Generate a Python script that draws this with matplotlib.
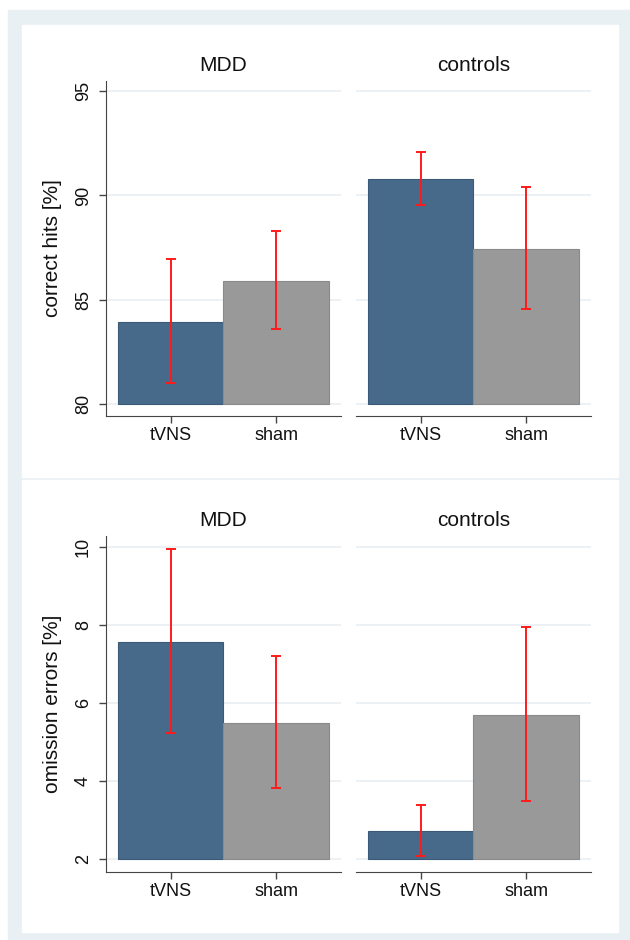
import matplotlib
matplotlib.use("Agg")
import matplotlib.pyplot as plt
from matplotlib.patches import Rectangle

plt.rcParams['font.family'] = ['Liberation Sans', 'DejaVu Sans']

# data
conditions = ["tVNS", "sham"]
groups = ["MDD", "controls"]

hits_mdd = [83.95, 85.9]
hits_mdd_lo = [81.0, 83.6]
hits_mdd_hi = [86.95, 88.3]
hits_ctrl = [90.8, 87.45]
hits_ctrl_lo = [89.55, 84.55]
hits_ctrl_hi = [92.1, 90.4]

omis_mdd = [7.58, 5.5]
omis_mdd_lo = [5.25, 3.83]
omis_mdd_hi = [9.95, 7.2]
omis_ctrl = [2.72, 5.71]
omis_ctrl_lo = [2.07, 3.5]
omis_ctrl_hi = [3.38, 7.95]

bar_colors = ["#476a8b", "#999999"]
edge_colors = ["#3a5a78", "#8a8a8a"]
bg = "#e8f0f3"
grid_col = "#e6eef1"

W, H = 630, 940
fig = plt.figure(figsize=(6.3, 9.4), dpi=100, facecolor="white")

def px(x0, y0, x1, y1):
    # pixel box (top-left origin) -> figure fraction rect
    return [x0 / W, 1 - y1 / H, (x1 - x0) / W, (y1 - y0) / H]

# outer light frame and white panels
r = px(8, 10, 630, 940)
fig.patches.append(Rectangle(r[:2], r[2], r[3], transform=fig.transFigure,
                             color=bg, zorder=-2))
for (y0, y1) in [(25, 477), (480, 932)]:
    r = px(22, y0, 618, y1)
    fig.patches.append(Rectangle(r[:2], r[2], r[3], transform=fig.transFigure,
                                 color="white", zorder=-1))

panels = [
    # (row box, ylim, base, yticks, ylabel, [(means, lo, hi), ...])
    ((81, 416), (79.44, 95.48), 80, [80, 85, 90, 95], "correct hits [%]",
     [(hits_mdd, hits_mdd_lo, hits_mdd_hi), (hits_ctrl, hits_ctrl_lo, hits_ctrl_hi)]),
    ((536, 871.7), (1.68, 10.29), 2, [2, 4, 6, 8, 10], "omission errors [%]",
     [(omis_mdd, omis_mdd_lo, omis_mdd_hi), (omis_ctrl, omis_ctrl_lo, omis_ctrl_hi)]),
]
cols = [(106, 341), (356, 591)]

xpos = [1, 2]
for (top, bot), ylim, base, yticks, ylabel, series in panels:
    for c, (g, (means, lo, hi)) in enumerate(zip(groups, series)):
        ax = fig.add_axes(px(cols[c][0], top, cols[c][1], bot))
        ax.set_facecolor("none")
        for yt in yticks:
            ax.axhline(yt, color=grid_col, lw=1.1, zorder=0)
        heights = [m - base for m in means]
        ax.bar(xpos, heights, bottom=base, width=1.0, color=bar_colors,
               edgecolor=edge_colors, linewidth=0.8, zorder=2)
        yerr = [[m - l for m, l in zip(means, lo)], [h - m for m, h in zip(means, hi)]]
        ax.errorbar(xpos, means, yerr=yerr, fmt="none", ecolor="#ff1a1a",
                    elinewidth=1.4, capsize=3.5, capthick=1.4, zorder=3)
        ax.set_xlim(0.386, 2.617)
        ax.set_ylim(*ylim)
        ax.set_xticks(xpos)
        ax.set_xticklabels(conditions)
        ax.set_yticks(yticks)
        ax.set_title(g, fontsize=15, pad=7, color="#111111")
        for s in ["top", "right"]:
            ax.spines[s].set_visible(False)
        ax.spines["bottom"].set_color("#444444")
        ax.spines["left"].set_color("#444444")
        ax.tick_params(axis="x", length=5, width=1, color="#444444",
                       labelsize=13, pad=3, labelcolor="#111111")
        ax.tick_params(axis="y", length=5, width=1, color="#444444",
                       labelsize=13, pad=5, labelcolor="#111111")
        if c == 0:
            for t in ax.get_yticklabels():
                t.set_rotation(90)
                t.set_va("center")
            fig.text(53 / W, 1 - (top + bot) / 2 / H, ylabel, rotation=90,
                     ha="center", va="center", fontsize=15, color="#111111")
        else:
            ax.spines["left"].set_visible(False)
            ax.tick_params(axis="y", left=False, labelleft=False)

fig.savefig("out.png", dpi=100, facecolor="white")
